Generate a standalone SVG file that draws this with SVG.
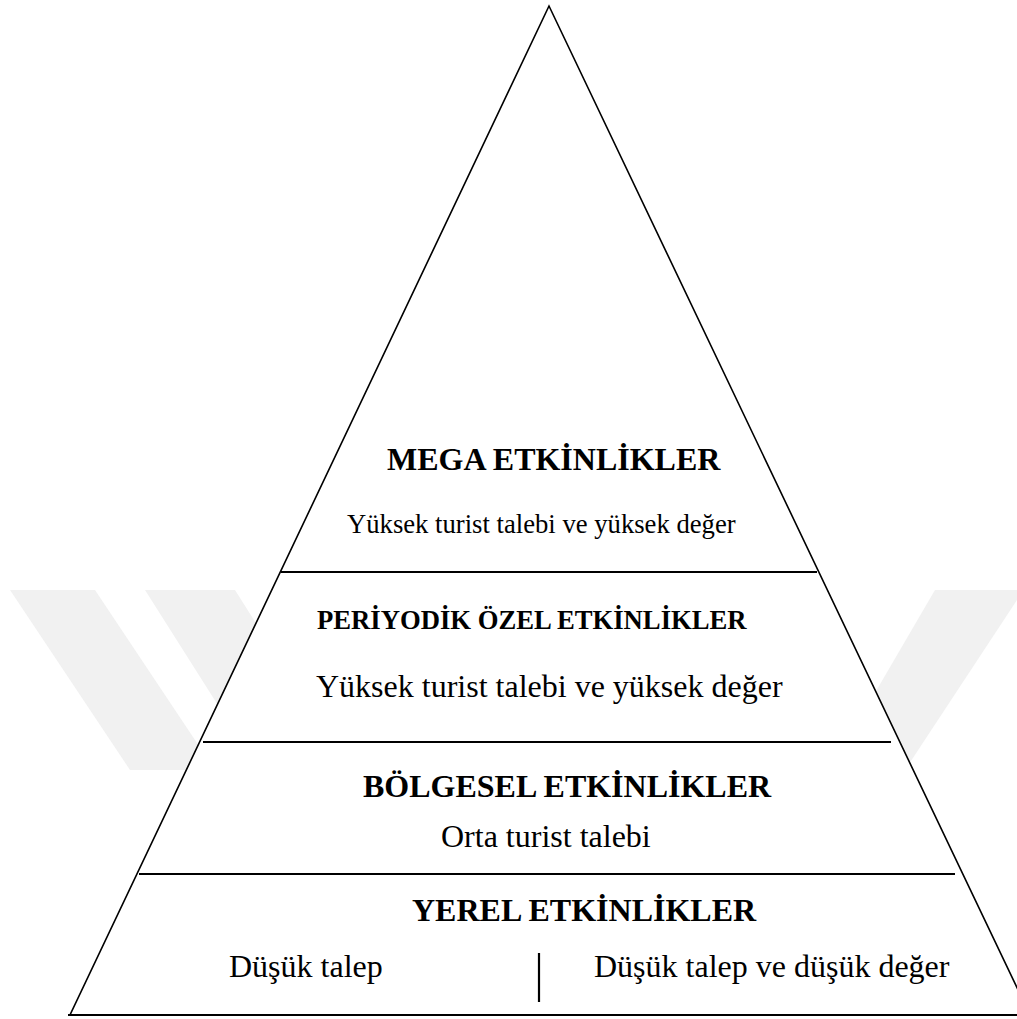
<svg xmlns="http://www.w3.org/2000/svg" width="1017" height="1019" viewBox="0 0 1017 1019">
<style>
.wm{fill:#f1f1f1;stroke:none}
.edge{fill:#ffffff;stroke:#000;stroke-width:1.6}
.div{stroke:#000;stroke-width:2.2;fill:none}
.t{font-family:"Liberation Serif","Times New Roman",serif;fill:#000}
.b{font-weight:bold}
</style>
<rect width="1017" height="1019" fill="#ffffff"/>
<g id="watermark">
<polygon class="wm" points="10,590 95,590 215,770 130,770"/>
<polygon class="wm" points="145,590 235,590 330,740 240,740"/>
<polygon class="wm" points="935,590 1017,590 1017,600 905,770 830,770"/>
</g>
<g id="pyramid">
<polygon class="edge" points="549,6 70,1015 1030,1015"/>
</g>
<g id="connectors">
<line class="div" x1="281" y1="572" x2="817" y2="572"/>
<line class="div" x1="203" y1="742" x2="891" y2="742"/>
<line class="div" x1="139" y1="874" x2="955" y2="874"/>
<line class="div" x1="68" y1="1015" x2="1017" y2="1015"/>
<line class="div" x1="539" y1="953" x2="539" y2="1002" stroke-width="1.6"/>
</g>
<g id="mega">
<text class="t b" x="387" y="470" font-size="32">MEGA ETKİNLİKLER</text>
<text class="t" x="347" y="533" font-size="26.67">Yüksek turist talebi ve yüksek değer</text>
</g>
<g id="periyodik">
<text class="t b" x="317" y="629" font-size="26.67">PERİYODİK ÖZEL ETKİNLİKLER</text>
<text class="t" x="316" y="697" font-size="32">Yüksek turist talebi ve yüksek değer</text>
</g>
<g id="bolgesel">
<text class="t b" x="363" y="797" font-size="32">BÖLGESEL ETKİNLİKLER</text>
<text class="t" x="441" y="847" font-size="32">Orta turist talebi</text>
</g>
<g id="yerel">
<text class="t b" x="412" y="921" font-size="32">YEREL ETKİNLİKLER</text>
<text class="t" x="229" y="977" font-size="32">Düşük talep</text>
<text class="t" x="594" y="977" font-size="32">Düşük talep ve düşük değer</text>
</g>
</svg>
